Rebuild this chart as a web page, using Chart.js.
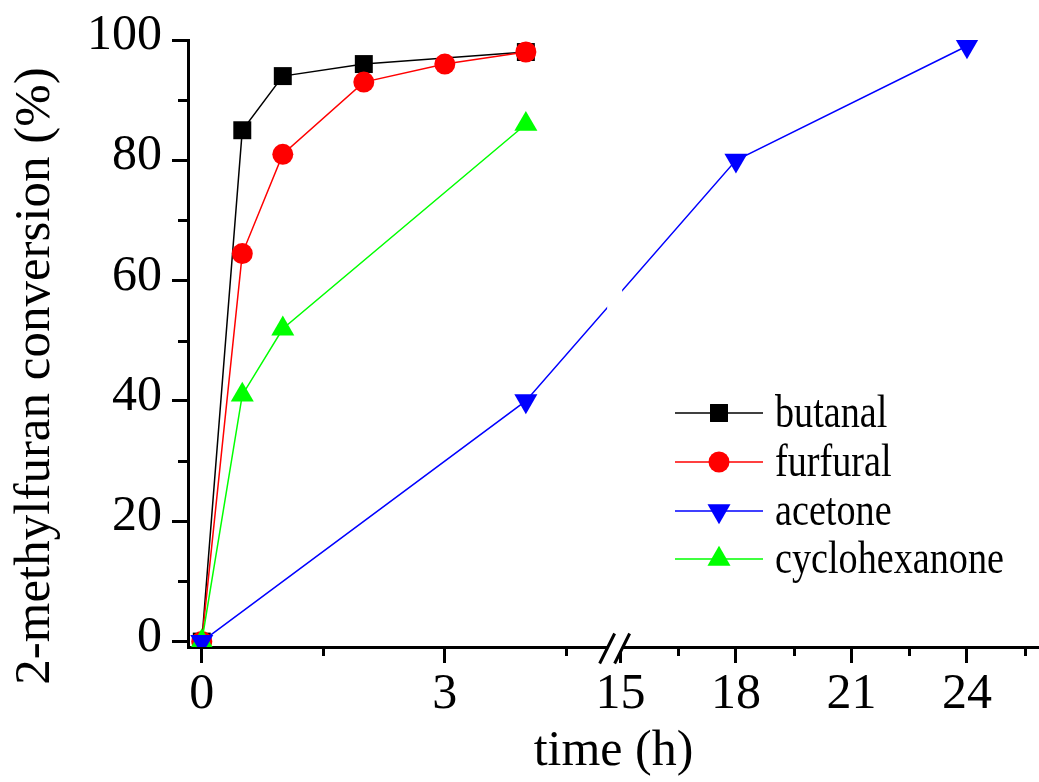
<!DOCTYPE html>
<html>
<head>
<meta charset="utf-8">
<script src="https://cdn.jsdelivr.net/npm/chart.js@4.4.1/dist/chart.umd.min.js"></script>
<style>
  html, body { margin: 0; padding: 0; background: #ffffff; }
  #wrap { width: 1039px; height: 782px; position: relative; }
</style>
</head>
<body>
<div id="wrap"><canvas id="chart"></canvas></div>
<script>
// 2-methylfuran conversion (%) against reaction time (h) for each carbonyl partner
const butanalTime = [0, 0.5, 1, 2, 4];
const butanalConv = [0, 85, 94, 96, 98];

const furfuralTime = [0, 0.5, 1, 2, 3, 4];
const furfuralConv = [0, 64.5, 81, 93, 96, 98];

const acetoneTime = [0, 4, 18, 24];
const acetoneConv = [0, 40, 80, 99];

const cyclohexanoneTime = [0, 0.5, 1, 4];
const cyclohexanoneConv = [0, 41, 52, 86];

// axis ticks: labelled (major) and short unlabelled (minor)
const xMajorTicks = [0, 3, 15, 18, 21, 24];
const xMinorTicks = [1.5, 4.5, 16.5, 19.5, 22.5, 25.5];
const yMajorTicks = [0, 20, 40, 60, 80, 100];
const yMinorTicks = [10, 30, 50, 70, 90];

// the time axis skips 5 h .. 15 h; the late segment is drawn at a smaller scale
const AXIS_BREAK = { from: 5, to: 15, gap: 0.167, ratio: 0.4753 };

const FONT = 'Liberation Serif';

class BrokenLinearScale extends Chart.LinearScale {
  _squeeze(v) {
    const b = AXIS_BREAK;
    if (v <= b.from) return v;
    if (v < b.to) return b.from + b.gap * (v - b.from) / (b.to - b.from);
    return b.from + b.gap + (v - b.to) * b.ratio;
  }
  _unsqueeze(c) {
    const b = AXIS_BREAK;
    if (c <= b.from) return c;
    if (c < b.from + b.gap) return b.from + (c - b.from) / b.gap * (b.to - b.from);
    return b.to + (c - b.from - b.gap) / b.ratio;
  }
  getPixelForValue(value) {
    if (value === null || value === undefined || isNaN(value)) return NaN;
    const a = this._squeeze(this.min);
    const z = this._squeeze(this.max);
    return this.getPixelForDecimal((this._squeeze(value) - a) / (z - a));
  }
  getValueForPixel(pixel) {
    const a = this._squeeze(this.min);
    const z = this._squeeze(this.max);
    return this._unsqueeze(a + this.getDecimalForPixel(pixel) * (z - a));
  }
}
BrokenLinearScale.id = 'brokenLinear';
BrokenLinearScale.defaults = Chart.LinearScale.defaults;
Chart.register(BrokenLinearScale);

const toPoints = (xs, ys) => xs.map((x, i) => ({ x: x, y: ys[i] }));

function series(label, xs, ys, color, style, radius, rotation, order) {
  return {
    label: label,
    data: toPoints(xs, ys),
    borderColor: color,
    backgroundColor: color,
    borderWidth: 1.5,
    tension: 0,
    pointStyle: style,
    pointRadius: radius,
    pointHoverRadius: radius,
    pointRotation: rotation,
    pointBorderWidth: 0,
    pointBackgroundColor: color,
    order: order
  };
}

const datasets = [
  series('butanal', butanalTime, butanalConv, '#000000', 'rect', 12.7, 0, 3),
  series('furfural', furfuralTime, furfuralConv, '#ff0000', 'circle', 10.5, 0, 2),
  series('acetone', acetoneTime, acetoneConv, '#0000ff', 'triangle', 13.3, 180, 0),
  series('cyclohexanone', cyclohexanoneTime, cyclohexanoneConv, '#00ff00', 'triangle', 13.3, 0, 1)
];

const decorations = {
  id: 'decorations',
  afterDraw(chart) {
    const ctx = chart.ctx;
    const xs = chart.scales.x;
    const ys = chart.scales.y;
    const area = chart.chartArea;
    const axisY = area.bottom + 1.5;

    ctx.save();
    ctx.strokeStyle = '#000000';
    ctx.lineWidth = 3;
    ctx.lineCap = 'butt';

    // short minor ticks
    ctx.beginPath();
    yMinorTicks.forEach(v => {
      const p = Math.round(ys.getPixelForValue(v)) + 0.5;
      ctx.moveTo(area.left - 10, p);
      ctx.lineTo(area.left, p);
    });
    xMinorTicks.forEach(v => {
      const p = Math.round(xs.getPixelForValue(v)) + 0.5;
      ctx.moveTo(p, area.bottom);
      ctx.lineTo(p, area.bottom + 9);
    });
    ctx.stroke();

    // axis break: blank band and double slash
    const mid = (xs.getPixelForValue(AXIS_BREAK.from) + xs.getPixelForValue(AXIS_BREAK.to)) / 2 + 1;
    ctx.fillStyle = '#ffffff';
    ctx.fillRect(mid - 7.5, area.top, 15, area.bottom + 4 - area.top);
    ctx.beginPath();
    [mid - 7.5, mid + 7.5].forEach(cx => {
      ctx.moveTo(cx + 7.5, axisY - 15);
      ctx.lineTo(cx - 7.5, axisY + 15);
    });
    ctx.stroke();

    // vertical axis title
    ctx.fillStyle = '#000000';
    ctx.font = '51px "' + FONT + '"';
    ctx.textAlign = 'center';
    ctx.textBaseline = 'alphabetic';
    ctx.save();
    ctx.translate(49, 376);
    ctx.rotate(-Math.PI / 2);
    ctx.fillText('2-methylfuran conversion (%)', 0, 0);
    ctx.restore();

    // legend: line - marker - line, then the label
    const lx0 = 675, lx1 = 763, mx = 719, tx = 775;
    const rowY = [413, 462, 511, 559];
    chart.data.datasets.forEach((ds, i) => {
      const y = rowY[i];
      ctx.strokeStyle = ds.borderColor;
      ctx.lineWidth = 1.5;
      ctx.beginPath();
      ctx.moveTo(lx0, y);
      ctx.lineTo(lx1, y);
      ctx.stroke();
      ctx.fillStyle = ds.pointBackgroundColor;
      Chart.helpers.drawPoint(ctx, {
        pointStyle: ds.pointStyle,
        rotation: ds.pointRotation,
        radius: ds.pointRadius,
        borderWidth: 0
      }, mx, y);
      ctx.save();
      ctx.fillStyle = '#000000';
      ctx.font = '46px "' + FONT + '"';
      ctx.textAlign = 'left';
      ctx.textBaseline = 'alphabetic';
      ctx.translate(tx, y + 14);
      ctx.scale(0.83, 1);
      ctx.fillText(ds.label, 0, 0);
      ctx.restore();
    });
    ctx.restore();
  }
};

new Chart(document.getElementById('chart'), {
  type: 'line',
  data: { datasets: datasets },
  options: {
    responsive: true,
    maintainAspectRatio: false,
    animation: false,
    devicePixelRatio: 1,
    layout: { autoPadding: false, padding: { top: 40, right: 0, bottom: 0, left: 0 } },
    plugins: {
      legend: { display: false },
      tooltip: { enabled: false }
    },
    scales: {
      x: {
        type: 'brokenLinear',
        min: -0.17,
        max: 25.87,
        bounds: 'data',
        afterBuildTicks: s => { s.ticks = xMajorTicks.map(v => ({ value: v })); },
        afterFit: s => { s.height = 135; s.paddingLeft = 0; s.paddingRight = 0; },
        border: { display: true, width: 3, color: '#000000' },
        grid: { drawOnChartArea: false, drawTicks: true, tickLength: 16, tickWidth: 3, tickColor: '#000000' },
        ticks: {
          autoSkip: false,
          maxRotation: 0,
          padding: 2,
          color: '#000000',
          font: { family: FONT, size: 50 },
          callback: v => String(v)
        },
        title: {
          display: true,
          text: 'time (h)',
          color: '#000000',
          font: { family: FONT, size: 50, lineHeight: 1.2 },
          padding: { top: 0, bottom: 0 }
        }
      },
      y: {
        type: 'linear',
        min: -0.9,
        max: 100,
        bounds: 'data',
        afterBuildTicks: s => { s.ticks = yMajorTicks.map(v => ({ value: v })); },
        afterFit: s => { s.width = 188; s.paddingTop = 0; s.paddingBottom = 0; },
        border: { display: true, width: 3, color: '#000000' },
        grid: { drawOnChartArea: false, drawTicks: true, tickLength: 16, tickWidth: 3, tickColor: '#000000' },
        ticks: {
          padding: 10,
          labelOffset: -4,
          color: '#000000',
          font: { family: FONT, size: 50 },
          callback: v => String(v)
        },
        title: { display: false }
      }
    }
  },
  plugins: [decorations]
});
</script>
</body>
</html>
